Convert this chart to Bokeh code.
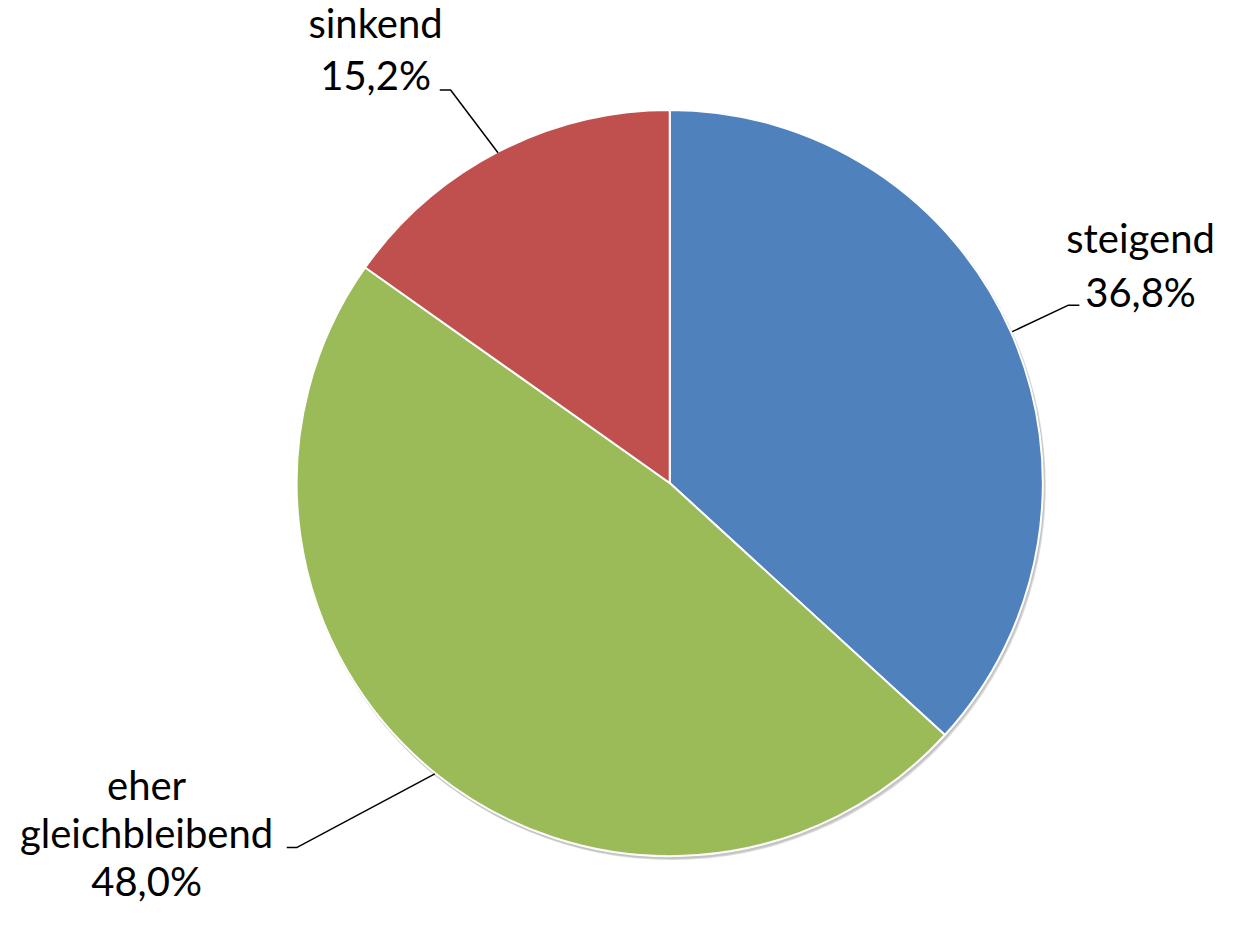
import math
from bokeh.plotting import figure
from bokeh.models import Range1d, ColumnDataSource
from bokeh.core.properties import value
from bokeh.embed import file_html
from bokeh.resources import INLINE

# ---- data ----
categories = ["steigend", "eher gleichbleibend", "sinkend"]
shares = [36.8, 48.0, 15.2]
colors = ["#4F81BD", "#9BBB59", "#C0504D"]

# ---- layout (reference pixel space 1237 x 927) ----
W, H = 1221, 911
REF_W, REF_H = 1237, 927
TEXT_SHIFT = 15  # compensate renderer baseline offset
def Y(py):
    return REF_H - py

cx, cy, R = 678, Y(491), 378

p = figure(width=W, height=H, x_range=Range1d(0, REF_W), y_range=Range1d(0, REF_H),
           output_backend="svg", toolbar_location=None, min_border=0)
p.axis.visible = False
p.grid.visible = False
p.outline_line_color = None
p.background_fill_color = "white"

# soft shadow
p.circle(x=[cx + 2], y=[cy - 3], radius=R + 1, fill_color="#b0b0b0", fill_alpha=0.45, line_color=None)
p.circle(x=[cx + 1], y=[cy - 2], radius=R + 1, fill_color="#999999", fill_alpha=0.35, line_color=None)

total = sum(shares)
starts, ends = [], []
cum = 0.0
for s in shares:
    starts.append(math.pi / 2 - cum / total * 2 * math.pi)
    cum += s
    ends.append(math.pi / 2 - cum / total * 2 * math.pi)

src = ColumnDataSource(dict(start=starts, end=ends, color=colors, cat=categories))
p.wedge(x=cx, y=cy, radius=R, start_angle="start", end_angle="end", direction="clock",
        fill_color="color", line_color="white", line_width=2, source=src)

# labels
def pct(v):
    return f"{v:.1f}".replace(".", ",") + "%"

label_lines = {
    "steigend": (["steigend", pct(shares[0])], 1155, [257, 312]),
    "eher gleichbleibend": (["eher", "gleichbleibend", pct(shares[1])], 148, [813, 862, 911]),
    "sinkend": (["sinkend", pct(shares[2])], 380, [38, 91]),
}
tx, ty, tt = [], [], []
for cat in categories:
    lines, x0, ys = label_lines[cat]
    for ln, yy in zip(lines, ys):
        tx.append(x0)
        ty.append(Y(yy - TEXT_SHIFT))
        tt.append(ln)
p.text(x=tx, y=ty, text=tt, text_align="center", text_baseline="alphabetic",
       text_font=value("Lato"), text_font_size="40px", text_color="black")

# leader lines
leaders = [
    ([1025, 1082, 1093], [337, 310, 310]),
    ([440, 300, 290], [787, 862, 862]),
    ([504, 456, 445], [155, 91, 91]),
]
p.multi_line(xs=[l[0] for l in leaders], ys=[[Y(v) for v in l[1]] for l in leaders],
             line_color="black", line_width=1.5)

open("out.html", "w").write(file_html(p, INLINE))
